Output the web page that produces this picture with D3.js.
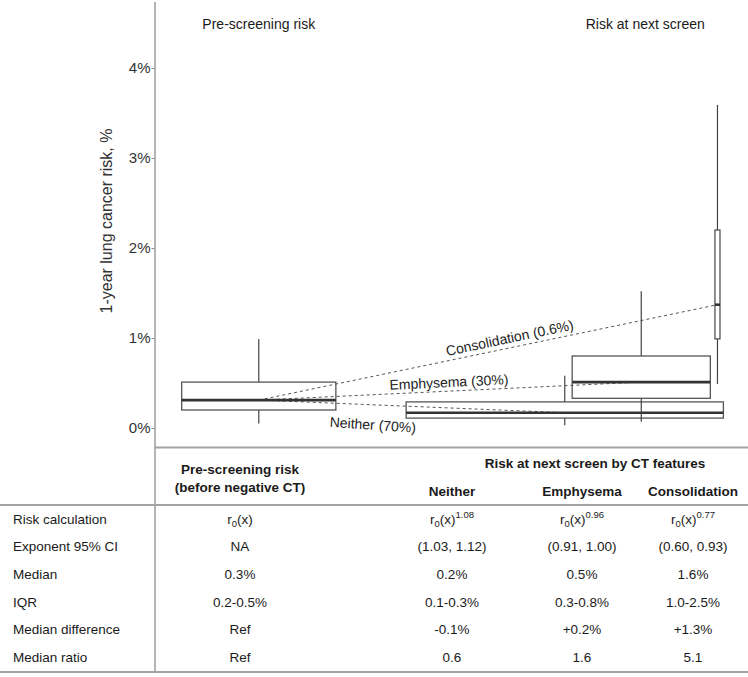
<!DOCTYPE html>
<html><head><meta charset="utf-8">
<script src="https://cdn.jsdelivr.net/npm/d3@7"></script>
<style>body{margin:0;background:#fff}svg{display:block;font-family:"Liberation Sans",Arial,sans-serif}</style>
</head><body><svg id="c" width="748" height="677"></svg>
<script>
// ---------- data ----------
const groups = ["Pre-screening", "Neither", "Emphysema", "Consolidation"];
const whiskerLow  = [0.05, 0.03, 0.07, 0.49];
const q1          = [0.20, 0.11, 0.33, 0.99];
const medians     = [0.31, 0.17, 0.51, 1.37];
const q3          = [0.51, 0.29, 0.80, 2.20];
const whiskerHigh = [0.99, 0.58, 1.52, 3.59];
const yTicks = [0, 1, 2, 3, 4];
const yTitle = "1-year lung cancer risk, %";
const panelTitles = ["Pre-screening risk", "Risk at next screen"];
const linkTargets = [3, 2, 1];
const linkLabels = ["Consolidation (0.6%)", "Emphysema (30%)", "Neither (70%)"];

const tableTitle = "Risk at next screen by CT features";
const colHeaders = ["Neither", "Emphysema", "Consolidation"];
const preHeader = ["Pre-screening risk", "(before negative CT)"];
const rowLabels = ["Risk calculation", "Exponent 95% CI", "Median", "IQR", "Median difference", "Median ratio"];
const exponents = ["1.08", "0.96", "0.77"];
const colPre = [null, "NA", "0.3%", "0.2-0.5%", "Ref", "Ref"];
const colNeither = [null, "(1.03, 1.12)", "0.2%", "0.1-0.3%", "-0.1%", "0.6"];
const colEmphysema = [null, "(0.91, 1.00)", "0.5%", "0.3-0.8%", "+0.2%", "1.6"];
const colConsolidation = [null, "(0.60, 0.93)", "1.6%", "1.0-2.5%", "+1.3%", "5.1"];

// ---------- layout (not data) ----------
const W = 748, H = 677;
const axisX = 155;
const boxCenter = [17.5, 69.1, 82.0, 94.85];
const boxWidth = [26, 53.5, 23.3, 0.85];
const labelFrac = [0.547, 0.497, 0.373];
const labelOff = [-10, -9, 20];
const colX = [240, 452, 582, 693];
const rowY0 = 519, rowStep = 27.6;

const svg = d3.select("#c");
const x = d3.scaleLinear().domain([0, 100]).range([axisX, W]);
const y = d3.scaleLinear().domain([0, 4]).range([428, 68]);

const ink = "#1a1a1a", gridGray = "#a3a3a3";

// axis lines
svg.append("line").attr("x1", axisX).attr("x2", axisX).attr("y1", 2).attr("y2", 673)
  .attr("stroke", gridGray).attr("stroke-width", 1.6);
svg.append("line").attr("x1", axisX).attr("x2", W).attr("y1", 447.5).attr("y2", 447.5)
  .attr("stroke", gridGray).attr("stroke-width", 2);

// y axis
const ax = svg.append("g").attr("transform", `translate(${axisX - 0.5},0)`)
  .call(d3.axisLeft(y).tickValues(yTicks).tickFormat(d => d + "%").tickSize(3));
ax.select(".domain").remove();
ax.selectAll(".tick line").attr("stroke", "#888");
ax.selectAll(".tick text").attr("fill", "#333").style("font-size", "15px")
  .style("font-family", "Liberation Sans, Arial, sans-serif").attr("x", -4);

svg.append("text").attr("transform", `translate(112,221) rotate(-90)`)
  .attr("text-anchor", "middle").attr("fill", "#333").style("font-size", "16px")
  .text(yTitle);

// panel titles
[0, 2].forEach((g, i) => {
  svg.append("text").attr("x", x(boxCenter[g]) + (i ? 4 : 0)).attr("y", 29)
    .attr("text-anchor", "middle").attr("fill", ink).style("font-size", "14px")
    .text(panelTitles[i]);
});

// dashed links
linkTargets.forEach((g, i) => {
  const x0 = x(boxCenter[0]), y0 = y(medians[0]);
  const x1 = x(boxCenter[g]), y1 = y(medians[g]);
  svg.append("line").attr("x1", x0).attr("y1", y0).attr("x2", x1).attr("y2", y1)
    .attr("stroke", "#555").attr("stroke-width", 1).attr("stroke-dasharray", "3,3");
  const ang = Math.atan2(y1 - y0, x1 - x0) * 180 / Math.PI;
  const lx = x0 + (x1 - x0) * labelFrac[i];
  const ly = y0 + (y1 - y0) * labelFrac[i] + labelOff[i];
  svg.append("text").attr("transform", `translate(${lx},${ly}) rotate(${ang + (i === 2 ? 1.5 : 0)})`)
    .attr("text-anchor", "middle").attr("dy", "0.35em").attr("fill", "#222")
    .style("font-size", "14px").text(linkLabels[i]);
});

// boxes
groups.forEach((gname, g) => {
  const cx = x(boxCenter[g]);
  const hw = (x(boxWidth[g]) - x(0)) / 2;
  const gg = svg.append("g");
  gg.append("line").attr("x1", cx).attr("x2", cx).attr("y1", y(whiskerHigh[g])).attr("y2", y(q3[g]))
    .attr("stroke", "#444").attr("stroke-width", 1.2);
  gg.append("line").attr("x1", cx).attr("x2", cx).attr("y1", y(q1[g])).attr("y2", y(whiskerLow[g]))
    .attr("stroke", "#444").attr("stroke-width", 1.2);
  gg.append("rect").attr("x", cx - hw).attr("y", y(q3[g])).attr("width", 2 * hw)
    .attr("height", y(q1[g]) - y(q3[g])).attr("fill", "none").attr("stroke", "#555").attr("stroke-width", 1.3);
  gg.append("line").attr("x1", cx - hw).attr("x2", cx + hw).attr("y1", y(medians[g])).attr("y2", y(medians[g]))
    .attr("stroke", "#333").attr("stroke-width", 2.6);
});

// ---------- table ----------
svg.append("line").attr("x1", 0).attr("x2", W).attr("y1", 505).attr("y2", 505)
  .attr("stroke", gridGray).attr("stroke-width", 2);
svg.append("line").attr("x1", 0).attr("x2", W).attr("y1", 672).attr("y2", 672)
  .attr("stroke", gridGray).attr("stroke-width", 2);

const bold = (t, xx, yy) => svg.append("text").attr("x", xx).attr("y", yy).attr("text-anchor", "middle")
  .attr("dy", "0.35em").attr("fill", ink).style("font-size", "13.5px").style("font-weight", "bold").text(t);
bold(preHeader[0], colX[0], 469);
bold(preHeader[1], colX[0], 487);
bold(tableTitle, 595, 463);
colHeaders.forEach((h, i) => bold(h, colX[i + 1], 491));

const cols = [colPre, colNeither, colEmphysema, colConsolidation];
rowLabels.forEach((lab, r) => {
  const yy = rowY0 + r * rowStep;
  svg.append("text").attr("x", 13).attr("y", yy).attr("dy", "0.35em").attr("fill", ink)
    .style("font-size", "13.5px").text(lab);
  cols.forEach((col, c) => {
    const t = svg.append("text").attr("x", colX[c]).attr("y", yy).attr("dy", "0.35em")
      .attr("text-anchor", "middle").attr("fill", ink).style("font-size", "13.5px");
    if (r === 0) {
      t.append("tspan").text("r");
      t.append("tspan").attr("dy", 3).style("font-size", "9.5px").text("0");
      t.append("tspan").attr("dy", -3).text("(x)");
      if (c > 0) t.append("tspan").attr("dy", -6).style("font-size", "9.5px").text(exponents[c - 1]);
    } else {
      t.text(col[r]);
    }
  });
});
</script></body></html>
